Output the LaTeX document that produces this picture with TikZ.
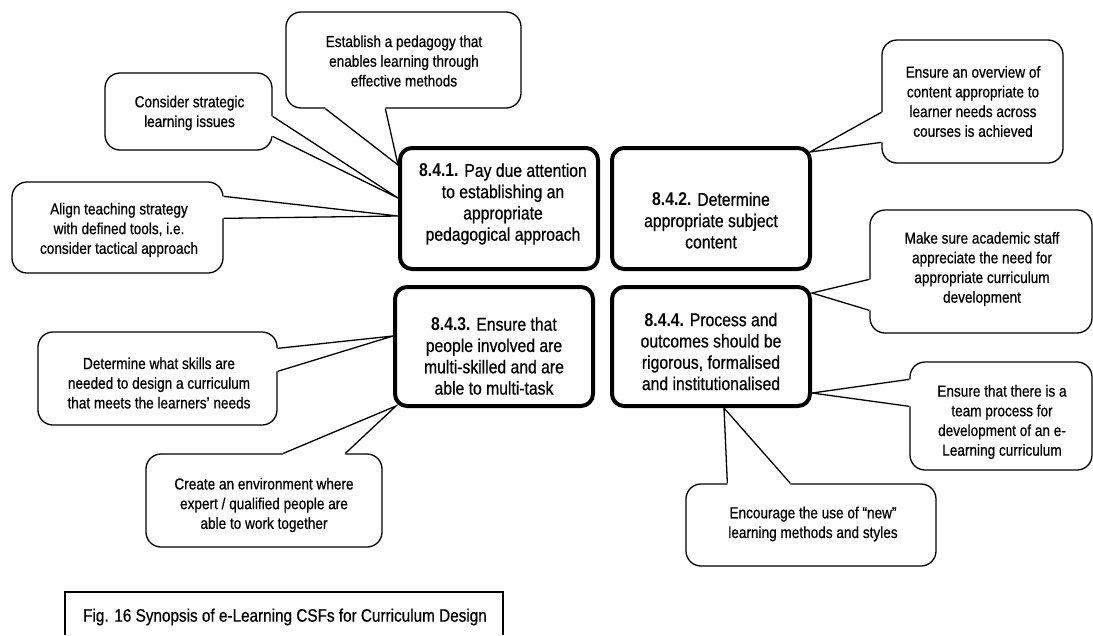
\documentclass[tikz,border=0pt]{standalone}
\usepackage{fontspec}
\setmainfont{Liberation Sans}[FakeStretch=0.85, UprightFeatures={FakeBold=0.6}]
\usetikzlibrary{calc}
\pgfdeclarelayer{back}
\pgfsetlayers{back,main}
\tikzset{
  callout/.style={draw, line width=1.3pt, fill=white, rounded corners=15pt, inner sep=0pt},
  calltext/.style={align=center, inner sep=0pt, font=\fontsize{16}{19.7}\selectfont},
  stagebox/.style={draw, line width=4pt, rounded corners=12pt, inner sep=0pt, minimum width=198pt},
  stagetext/.style={align=center, inner sep=0pt, font=\fontsize{18.5}{21.3}\selectfont},
  pointerline/.style={line width=1.3pt, line join=miter},
  captext/.style={inner sep=0pt, font=\fontsize{18}{20}\selectfont},
}
% speech-bubble pointer: base point, tip, base point, shift into the bubble
\newcommand\pointer[4]{%
  \fill[white] ($(#1)+#4$) -- (#1) -- (#2) -- (#3) -- ($(#3)+#4$) -- cycle;
  \draw[pointerline] (#1) -- (#2) -- (#3);
}
\begin{document}
\begin{tikzpicture}[x=1pt,y=-1pt]
\useasboundingbox (0,0) rectangle (1093,635);

% the four success factors
\node[stagebox, minimum height=121pt] (s1) at (499,208.5) {};
\node[stagebox, minimum height=121pt] (s2) at (711,208.5) {};
\node[stagebox, minimum height=119pt] (s3) at (494,346.5) {};
\node[stagebox, minimum height=119pt] (s4) at (711,346.5) {};

\node[stagetext] (s1t) at (503,204) {\textbf{8.4.1.} Pay due attention\\to establishing an\\appropriate\\pedagogical approach};
\node[stagetext] (s2t) at (711,220.5) {\textbf{8.4.2.} Determine\\appropriate subject\\content};
\node[stagetext] (s3t) at (494,356) {\textbf{8.4.3.} Ensure that\\people involved are\\multi-skilled and are\\able to multi-task};
\node[stagetext] (s4t) at (711,351.5) {\textbf{8.4.4.} Process and\\outcomes should be\\rigorous, formalised\\and institutionalised};

\begin{pgfonlayer}{back}
% speech bubbles
\node[callout, minimum width=235pt, minimum height=96pt]  (c1) at (403.5,60) {};
\node[callout, minimum width=167pt, minimum height=77pt]  (c2) at (188.5,111.5) {};
\node[callout, minimum width=211pt, minimum height=91pt]  (c3) at (117.5,227.5) {};
\node[callout, minimum width=181pt, minimum height=123pt] (c4) at (972.5,101.5) {};
\node[callout, minimum width=222pt, minimum height=123pt] (c5) at (981,271.5) {};
\node[callout, minimum width=182pt, minimum height=108pt] (c6) at (1001,416) {};
\node[callout, minimum width=250pt, minimum height=82pt]  (c7) at (811,525) {};
\node[callout, minimum width=239pt, minimum height=93pt]  (c8) at (157.5,378.5) {};
\node[callout, minimum width=236pt, minimum height=93pt]  (c9) at (264,500.5) {};

% pointer bases and tips
\coordinate (c1a) at ($(c1.south west)+(40,0)$);
\coordinate (c1b) at ($(c1.south west)+(100,0)$);
\coordinate (c1p) at ($(s1.north west)+(0,19)$);
\coordinate (c2a) at ($(c2.north east)+(0,44)$);
\coordinate (c2b) at ($(c2.north east)+(0,64)$);
\coordinate (c2p) at ($(s1.north west)+(0,52)$);
\coordinate (c3a) at ($(c3.north east)+(0,15)$);
\coordinate (c3b) at ($(c3.north east)+(0,37)$);
\coordinate (c3p) at ($(s1.north west)+(0,70)$);
\coordinate (c4a) at ($(c4.north west)+(0,73)$);
\coordinate (c4b) at ($(c4.north west)+(0,103)$);
\coordinate (c4p) at ($(s2.north east)+(-2,6)$);
\coordinate (c5a) at ($(c5.north west)+(0,70)$);
\coordinate (c5b) at ($(c5.north west)+(0,101)$);
\coordinate (c5p) at ($(s4.north east)+(0,8)$);
\coordinate (c6a) at ($(c6.north west)+(0,18)$);
\coordinate (c6b) at ($(c6.north west)+(0,45)$);
\coordinate (c6p) at ($(s4.north east)+(0,108)$);
\coordinate (c7a) at ($(c7.north west)+(42,0)$);
\coordinate (c7b) at ($(c7.north west)+(105,0)$);
\coordinate (c7p) at ($(s4.south west)+(114,0)$);
\coordinate (c8a) at ($(c8.north east)+(0,17)$);
\coordinate (c8b) at ($(c8.north east)+(0,40)$);
\coordinate (c8p) at ($(s3.north west)+(0,51)$);
\coordinate (c9a) at ($(c9.north west)+(138,0)$);
\coordinate (c9b) at ($(c9.north west)+(200,0)$);
\coordinate (c9p) at ($(s3.south west)+(3,-2)$);

\pointer{c1a}{c1p}{c1b}{(0,-2)}
\pointer{c2a}{c2p}{c2b}{(-2,0)}
\pointer{c3a}{c3p}{c3b}{(-2,0)}
\pointer{c4a}{c4p}{c4b}{(2,0)}
\pointer{c5a}{c5p}{c5b}{(2,0)}
\pointer{c6a}{c6p}{c6b}{(2,0)}
\pointer{c7a}{c7p}{c7b}{(0,2)}
\pointer{c8a}{c8p}{c8b}{(-2,0)}
\pointer{c9a}{c9p}{c9b}{(0,2)}
\end{pgfonlayer}

% bubble texts
\node[calltext] (c1t) at (404,61) {Establish a pedagogy that\\enables learning through\\effective methods};
\node[calltext] (c2t) at (189.5,113) {Consider strategic\\learning issues};
\node[calltext] (c3t) at (119,230) {Align teaching strategy\\with defined tools, i.e.\\consider tactical approach};
\node[calltext] (c4t) at (973,101.5) {Ensure an overview of\\content appropriate to\\learner needs across\\courses is achieved};
\node[calltext] (c5t) at (982,269) {Make sure academic staff\\appreciate the need for\\appropriate curriculum\\development};
\node[calltext] (c6t) at (1002,422) {Ensure that there is a\\team process for\\development of an e-\\Learning curriculum};
\node[calltext] (c7t) at (813,524) {Encourage the use of “new”\\learning methods and styles};
\node[calltext] (c8t) at (159,383) {Determine what skills are\\needed to design a curriculum\\that meets the learners’ needs};
\node[calltext] (c9t) at (264,505) {Create an environment where\\expert / qualified people are\\able to work together};

% caption panel
\node[captext] (cap) at (285,617) {Fig. 16 Synopsis of e-Learning CSFs for Curriculum Design};
\draw[line width=1.3pt] (65,635) -- (65,592) -- (503,592) -- (503,635);
\end{tikzpicture}
\end{document}
